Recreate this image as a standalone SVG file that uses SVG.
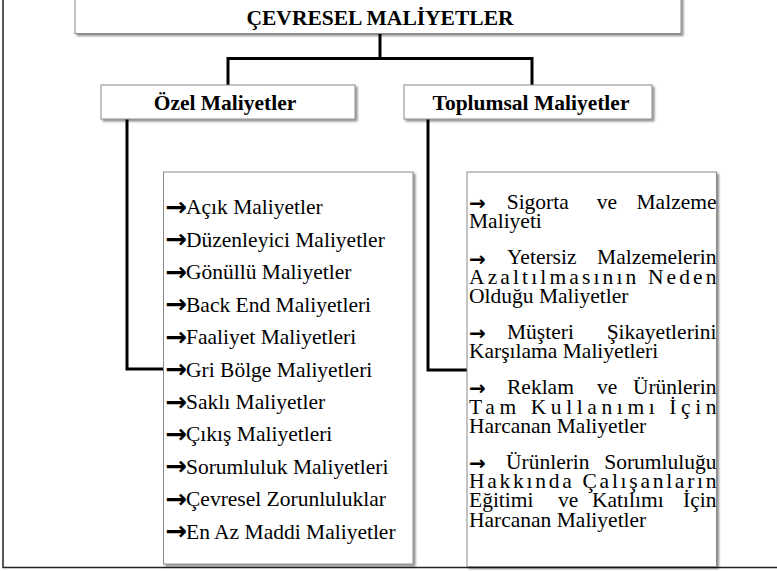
<svg xmlns="http://www.w3.org/2000/svg" width="777" height="571" viewBox="0 0 777 571">
<defs>
<filter id="sh" x="-10%" y="-10%" width="120%" height="130%">
<feDropShadow dx="2" dy="2" stdDeviation="1.3" flood-color="#000" flood-opacity="0.45"/>
</filter>
<style>
.box{fill:#fff;stroke:#8a8a8a;stroke-width:1;filter:url(#sh)}
.hd{font-family:"Liberation Serif","Times New Roman",serif;font-weight:bold;font-size:21.5px;fill:#000;text-anchor:middle}
.t{font-family:"Liberation Serif","Times New Roman",serif;font-size:21.5px;fill:#000}
.ar{font-family:"DejaVu Sans",sans-serif;font-size:26px;font-weight:bold}
.ar2{font-family:"DejaVu Sans",sans-serif;font-size:20px;font-weight:bold}
.e{text-anchor:end}
.con{fill:none;stroke:#000;stroke-width:3}
.frame{stroke:#222;stroke-width:1.5;fill:none}
</style>
</defs>
<g id="frame">
<path class="frame" d="M3 0 V567.5 H777"/>
</g>
<g id="connectors">
<path class="con" d="M380 33 V58.5"/>
<polyline class="con" points="228,85 228,58.5 532,58.5 532,85"/>
<polyline class="con" points="127,119 127,369 163.5,369"/>
<polyline class="con" points="428,119 428,370 467,370"/>
</g>
<g id="cevresel">
<rect class="box" x="75" y="-4" width="606" height="37.5"/>
<text class="hd" x="380" y="25">ÇEVRESEL MALİYETLER</text>
</g>
<g id="ozel">
<rect class="box" x="101" y="85" width="254" height="34"/>
<text class="hd" x="225" y="110">Özel Maliyetler</text>
</g>
<g id="toplumsal">
<rect class="box" x="404" y="85" width="248" height="34"/>
<text class="hd" x="531" y="110">Toplumsal Maliyetler</text>
</g>
<g id="ozel-list">
<rect class="box" x="163.5" y="172" width="249.5" height="392"/>
<g class="t">
<text x="165.5" y="214.3"><tspan class="ar" dy="1.5">→</tspan><tspan x="186" dy="-1.5">Açık Maliyetler</tspan></text>
<text x="165.5" y="246.75"><tspan class="ar" dy="1.5">→</tspan><tspan x="186" dy="-1.5">Düzenleyici Maliyetler</tspan></text>
<text x="165.5" y="279.2"><tspan class="ar" dy="1.5">→</tspan><tspan x="186" dy="-1.5">Gönüllü Maliyetler</tspan></text>
<text x="165.5" y="311.65"><tspan class="ar" dy="1.5">→</tspan><tspan x="186" dy="-1.5">Back End Maliyetleri</tspan></text>
<text x="165.5" y="344.1"><tspan class="ar" dy="1.5">→</tspan><tspan x="186" dy="-1.5">Faaliyet Maliyetleri</tspan></text>
<text x="165.5" y="376.55"><tspan class="ar" dy="1.5">→</tspan><tspan x="186" dy="-1.5">Gri Bölge Maliyetleri</tspan></text>
<text x="165.5" y="409"><tspan class="ar" dy="1.5">→</tspan><tspan x="186" dy="-1.5">Saklı Maliyetler</tspan></text>
<text x="165.5" y="441.45"><tspan class="ar" dy="1.5">→</tspan><tspan x="186" dy="-1.5">Çıkış Maliyetleri</tspan></text>
<text x="165.5" y="473.9"><tspan class="ar" dy="1.5">→</tspan><tspan x="186" dy="-1.5">Sorumluluk Maliyetleri</tspan></text>
<text x="165.5" y="506.35"><tspan class="ar" dy="1.5">→</tspan><tspan x="186" dy="-1.5">Çevresel Zorunluluklar</tspan></text>
<text x="165.5" y="538.8"><tspan class="ar" dy="1.5">→</tspan><tspan x="186" dy="-1.5">En Az Maddi Maliyetler</tspan></text>
</g>
</g>
<g id="toplumsal-list">
<rect class="box" x="467" y="172" width="249.5" height="394.5"/>
<g class="t">
<text x="469" y="209"><tspan class="ar2" dy="1.2">→</tspan><tspan x="506.7" dy="-1.2">Sigorta</tspan><tspan x="596.7">ve</tspan></text><text class="e" x="716.5" y="209">Malzeme</text>
<text x="469" y="228.3">Maliyeti</text>
<text x="469" y="264.3"><tspan class="ar2" dy="1.2">→</tspan><tspan x="507" dy="-1.2">Yetersiz</tspan></text><text class="e" x="716.5" y="264.3">Malzemelerin</text>
<text x="469" y="283.6" textLength="247.5" lengthAdjust="spacing">Azaltılmasının Neden</text>
<text x="469" y="302.9">Olduğu Maliyetler</text>
<text x="469" y="338.9"><tspan class="ar2" dy="1.2">→</tspan><tspan x="507" dy="-1.2">Müşteri</tspan></text><text class="e" x="716.5" y="338.9">Şikayetlerini</text>
<text x="469" y="358.2">Karşılama Maliyetleri</text>
<text x="469" y="394.2"><tspan class="ar2" dy="1.2">→</tspan><tspan x="507" dy="-1.2">Reklam</tspan><tspan x="597">ve</tspan></text><text class="e" x="716.5" y="394.2">Ürünlerin</text>
<text x="469" y="413.5" textLength="247.5" lengthAdjust="spacing">Tam Kullanımı İçin</text>
<text x="469" y="432.8">Harcanan Maliyetler</text>
<text x="469" y="468.8"><tspan class="ar2" dy="1.2">→</tspan><tspan x="506" dy="-1.2">Ürünlerin</tspan></text><text class="e" x="716.5" y="468.8">Sorumluluğu</text>
<text x="469" y="488.1" textLength="247.5" lengthAdjust="spacing">Hakkında Çalışanların</text>
<text x="469" y="507.4">Eğitimi<tspan x="558">ve</tspan><tspan x="592">Katılımı</tspan></text><text class="e" x="716.5" y="507.4">İçin</text>
<text x="469" y="526.7">Harcanan Maliyetler</text>
</g>
</g>
</svg>
